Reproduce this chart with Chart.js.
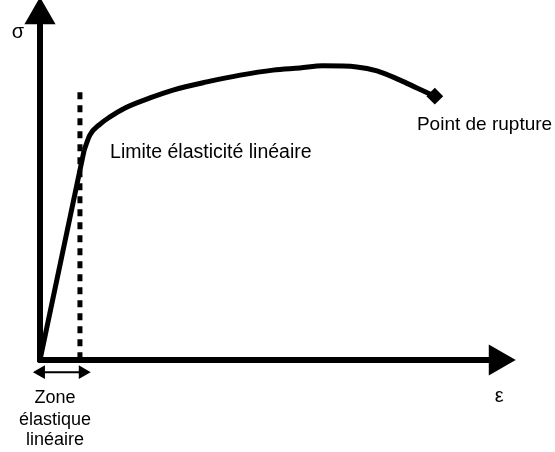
<!DOCTYPE html>
<html>
<head>
<meta charset="utf-8">
<script src="https://cdn.jsdelivr.net/npm/chart.js@4"></script>
<style>
    body { margin: 0; background: #fff; }
    #wrap { width: 555px; height: 452px; }
</style>
</head>
<body>
<div id="wrap"><canvas id="courbe"></canvas></div>
<script>
// Courbe contrainte / déformation (unités arbitraires, origine en 0,0)
const elastiqueEps = [0, 9.4];
const elastiqueSig = [0, 58.8];
const plastiqueEps = [9.4, 10.6, 12.8, 14.9, 18.1, 23.4, 28.3, 35.5, 42.6, 49.6, 55.3, 60.2, 67.4, 71.7, 76.6, 80.2, 84.0];
const plastiqueSig = [58.8, 63.0, 66.1, 68.1, 70.6, 73.4, 75.6, 77.9, 79.8, 81.2, 81.8, 82.4, 82.1, 81.0, 78.4, 76.2, 73.9];
const rupture = { x: 84.0, y: 73.9 };
const limiteEps = 8.5;      // ligne pointillée
const limiteHaut = 75;
const zoneEps = [0.2, 9.1]; // flèche double sous l'axe
const zoneSig = -3.4;
const axeXMax = 97.4;
const axeYMax = 96.6;

const labels = [
    { text: 'σ', x: -4.7, y: 90.2, align: 'center', size: 20 },
    { text: 'ε', x: 97.7, y: -11.8, align: 'center', size: 20 },
    { text: 'Limite élasticité linéaire', x: 14.9, y: 56.6, align: 'left', size: 19.5 },
    { text: 'Point de rupture', x: 80.2, y: 64.4, align: 'left', size: 19 },
    { text: 'Zone', x: 3.2, y: -12.0, align: 'center', size: 18 },
    { text: 'élastique', x: 3.2, y: -18.2, align: 'center', size: 18 },
    { text: 'linéaire', x: 3.2, y: -23.8, align: 'center', size: 18 }
];

function toPoints(xs, ys) {
    return xs.map((x, i) => ({ x: x, y: ys[i] }));
}

const textes = {
    id: 'textes',
    afterDatasetsDraw(chart) {
        const ctx = chart.ctx;
        const sx = chart.scales.x;
        const sy = chart.scales.y;
        ctx.save();
        ctx.fillStyle = '#000';
        ctx.textBaseline = 'alphabetic';
        labels.forEach(l => {
            ctx.font = l.size + 'px "Liberation Sans", Arial, sans-serif';
            ctx.textAlign = l.align;
            ctx.fillText(l.text, sx.getPixelForValue(l.x), sy.getPixelForValue(l.y));
        });
        ctx.restore();
    }
};

new Chart(document.getElementById('courbe'), {
    type: 'scatter',
    data: {
        datasets: [
            {
                // axe des contraintes
                data: [{ x: 0, y: -0.6 }, { x: 0, y: axeYMax }],
                showLine: true,
                borderColor: '#000',
                backgroundColor: '#000',
                borderWidth: 6,
                pointRadius: [0, 12],
                pointStyle: 'triangle',
                rotation: 0,
                clip: false
            },
            {
                // axe des déformations
                data: [{ x: -0.4, y: 0 }, { x: axeXMax, y: 0 }],
                showLine: true,
                borderColor: '#000',
                backgroundColor: '#000',
                borderWidth: 6,
                pointRadius: [0, 12],
                pointStyle: 'triangle',
                rotation: 90,
                clip: false
            },
            {
                data: [{ x: limiteEps, y: limiteHaut }, { x: limiteEps, y: 0 }],
                showLine: true,
                borderColor: '#000',
                borderWidth: 5,
                borderDash: [7, 6],
                pointRadius: 0,
                clip: false
            },
            {
                data: toPoints(elastiqueEps, elastiqueSig),
                showLine: true,
                borderColor: '#000',
                borderWidth: 5,
                pointRadius: 0,
                clip: false
            },
            {
                data: toPoints(plastiqueEps, plastiqueSig),
                showLine: true,
                borderColor: '#000',
                borderWidth: 5,
                cubicInterpolationMode: 'monotone',
                pointRadius: 0,
                clip: false
            },
            {
                data: [rupture],
                borderColor: '#000',
                backgroundColor: '#000',
                pointStyle: 'rectRot',
                pointRadius: 7,
                pointBorderWidth: 2,
                clip: false
            },
            {
                // zone élastique linéaire
                data: [{ x: zoneEps[0], y: zoneSig }, { x: zoneEps[1], y: zoneSig }],
                showLine: true,
                borderColor: '#000',
                backgroundColor: '#000',
                borderWidth: 2,
                pointRadius: 6,
                pointStyle: 'triangle',
                rotation: [270, 90],
                clip: false
            }
        ]
    },
    options: {
        responsive: true,
        maintainAspectRatio: false,
        animation: false,
        events: [],
        layout: { autoPadding: false, padding: 0 },
        scales: {
            // 4.7 px par unité en x, 3.57 px par unité en y, origine à (40, 360)
            x: { type: 'linear', min: -8.511, max: 109.574, display: false },
            y: { type: 'linear', min: -25.77, max: 100.84, display: false }
        },
        plugins: {
            legend: { display: false },
            tooltip: { enabled: false }
        }
    },
    plugins: [textes]
});
</script>
</body>
</html>
